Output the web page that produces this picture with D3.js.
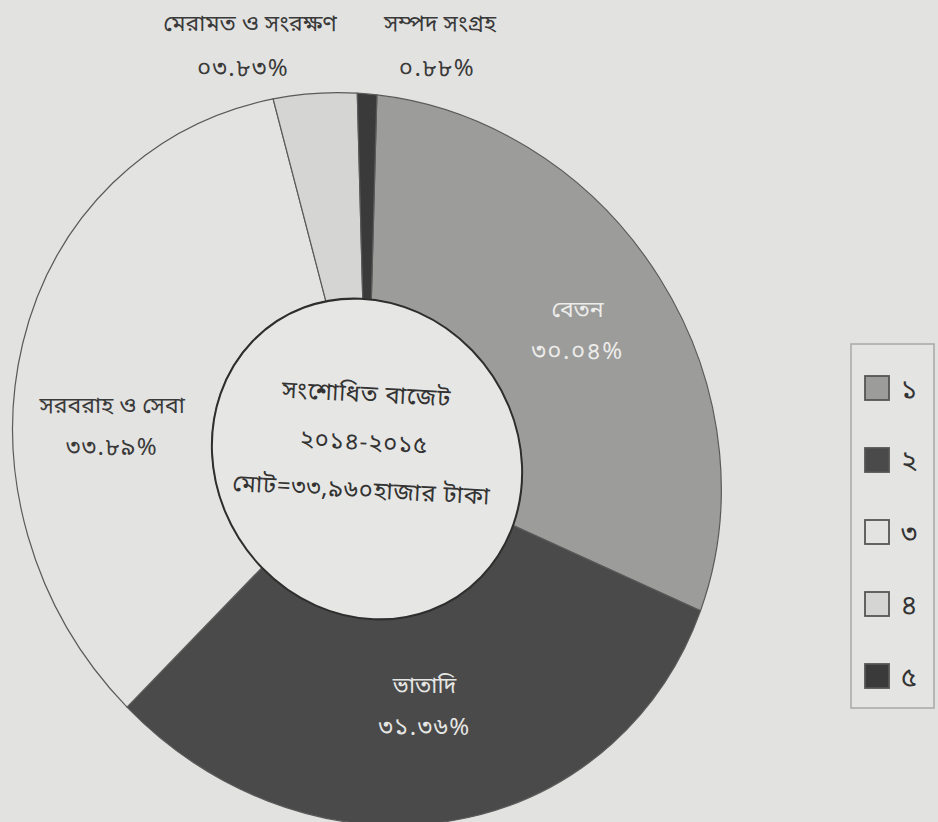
<!DOCTYPE html>
<html>
<head>
<meta charset="utf-8">
<script src="https://cdn.jsdelivr.net/npm/d3@7"></script>
<style>
  html, body { margin: 0; padding: 0; background: #e2e2e0; }
  text { font-family: "Noto Sans Bengali", "Noto Serif Bengali", "Lohit Bengali", "Noto Sans", sans-serif; }
</style>
</head>
<body>
<div id="chart"></div>
<script>
// data
var categories = ["বেতন", "ভাতাদি", "সরবরাহ ও সেবা", "মেরামত ও সংরক্ষণ", "সম্পদ সংগ্রহ"];
var values = [30.04, 31.36, 33.89, 3.83, 0.88];
var valueLabels = ["৩০.০৪%", "৩১.৩৬%", "৩৩.৮৯%", "০৩.৮৩%", "০.৮৮%"];
var legendLabels = ["১", "২", "৩", "৪", "৫"];
var centerLines = ["সংশোধিত বাজেট", "২০১৪-২০১৫", "মোট=৩৩,৯৬০হাজার টাকা"];

var config = {
  width: 938,
  height: 822,
  cx: 367,
  cy: 459,
  outer: 354,
  inner: 155,
  startDeg: 4,
  // the scanned page is a little skewed: circle -> tilted ellipse
  skew: [1, 0.042, 0.042, 1.034]
};

var colors = ["#9c9c9b", "#4a4a4a", "#e3e3e1", "#d5d5d3", "#3a3a3a"];
var textColors = ["#ececea", "#e6e6e4", "#3a3a3a"];
var labelNudge = [0, 0, -11];   // degrees
var labelRad = [0.72, 0.68, 0.72];

var svg = d3.select("#chart").append("svg")
  .attr("width", config.width)
  .attr("height", config.height);

var pie = d3.pie()
  .sort(null)
  .value(function(d) { return d; })
  .startAngle(config.startDeg * Math.PI / 180)
  .endAngle((360 + config.startDeg) * Math.PI / 180);

var arcs = pie(values);

var arc = d3.arc()
  .innerRadius(config.inner)
  .outerRadius(config.outer);

var m = config.skew;
function project(x, y) {
  return [config.cx + m[0] * x + m[2] * y, config.cy + m[1] * x + m[3] * y];
}

var g = svg.append("g")
  .attr("transform", "translate(" + config.cx + "," + config.cy + ") matrix(" + m.join(",") + ",0,0)");

g.selectAll("path.slice")
  .data(arcs)
  .enter().append("path")
  .attr("class", "slice")
  .attr("d", arc)
  .attr("fill", function(d, i) { return colors[i]; })
  .attr("stroke", "#5a5a5a")
  .attr("stroke-width", 1.2);

// centre disc
g.append("circle")
  .attr("r", config.inner)
  .attr("fill", "#e6e6e4")
  .attr("stroke", "#2e2e2e")
  .attr("stroke-width", 2);

// labels inside the big slices
arcs.slice(0, 3).forEach(function(d, i) {
  var a = (d.startAngle + d.endAngle) / 2 + labelNudge[i] * Math.PI / 180;
  var r = config.outer * labelRad[i];
  var p = project(r * Math.sin(a), -r * Math.cos(a));
  var t = svg.append("text")
    .attr("text-anchor", "middle")
    .attr("fill", textColors[i]);
  t.append("tspan").attr("x", p[0]).attr("y", p[1] - 12)
    .attr("font-size", 23).text(categories[i]);
  t.append("tspan").attr("x", p[0]).attr("y", p[1] + 30)
    .attr("font-size", 24).attr("letter-spacing", 1.5).text(valueLabels[i]);
});

// labels of the two thin slices, above the ring
var topX = [250, 440];
[3, 4].forEach(function(k, j) {
  var t = svg.append("text")
    .attr("text-anchor", "middle")
    .attr("fill", "#3a3a3a");
  t.append("tspan").attr("x", topX[j]).attr("y", 31)
    .attr("font-size", 23).text(categories[k]);
  t.append("tspan").attr("x", topX[j] - (j === 0 ? 7 : 3)).attr("y", 76)
    .attr("font-size", 24).attr("letter-spacing", 1.5).text(valueLabels[k]);
});

// centre text
var ct = svg.append("text")
  .attr("transform", "translate(" + 366 + "," + 402 + ") rotate(3)")
  .attr("text-anchor", "middle")
  .attr("fill", "#333")
  .attr("font-size", 24)
  .attr("letter-spacing", 0.8);
centerLines.forEach(function(s, i) {
  ct.append("tspan").attr("x", 0).attr("y", i * 48).text(s);
});

// legend
var legend = svg.append("g").attr("transform", "translate(851,344)");
legend.append("rect")
  .attr("width", 83)
  .attr("height", 364)
  .attr("fill", "#e4e4e2")
  .attr("stroke", "#a8a8a6")
  .attr("stroke-width", 1.5);

var legendY = d3.scaleLinear().domain([0, 4]).range([44, 332]);

var items = legend.selectAll("g.item")
  .data(legendLabels)
  .enter().append("g")
  .attr("class", "item")
  .attr("transform", function(d, i) { return "translate(0," + legendY(i) + ")"; });

items.append("rect")
  .attr("x", 14)
  .attr("y", -12)
  .attr("width", 24)
  .attr("height", 24)
  .attr("fill", function(d, i) { return colors[i]; })
  .attr("stroke", "#555")
  .attr("stroke-width", 1.8);

items.append("text")
  .attr("x", 50)
  .attr("y", 10)
  .attr("fill", "#333")
  .attr("font-size", 27)
  .text(function(d) { return d; });
</script>
</body>
</html>
